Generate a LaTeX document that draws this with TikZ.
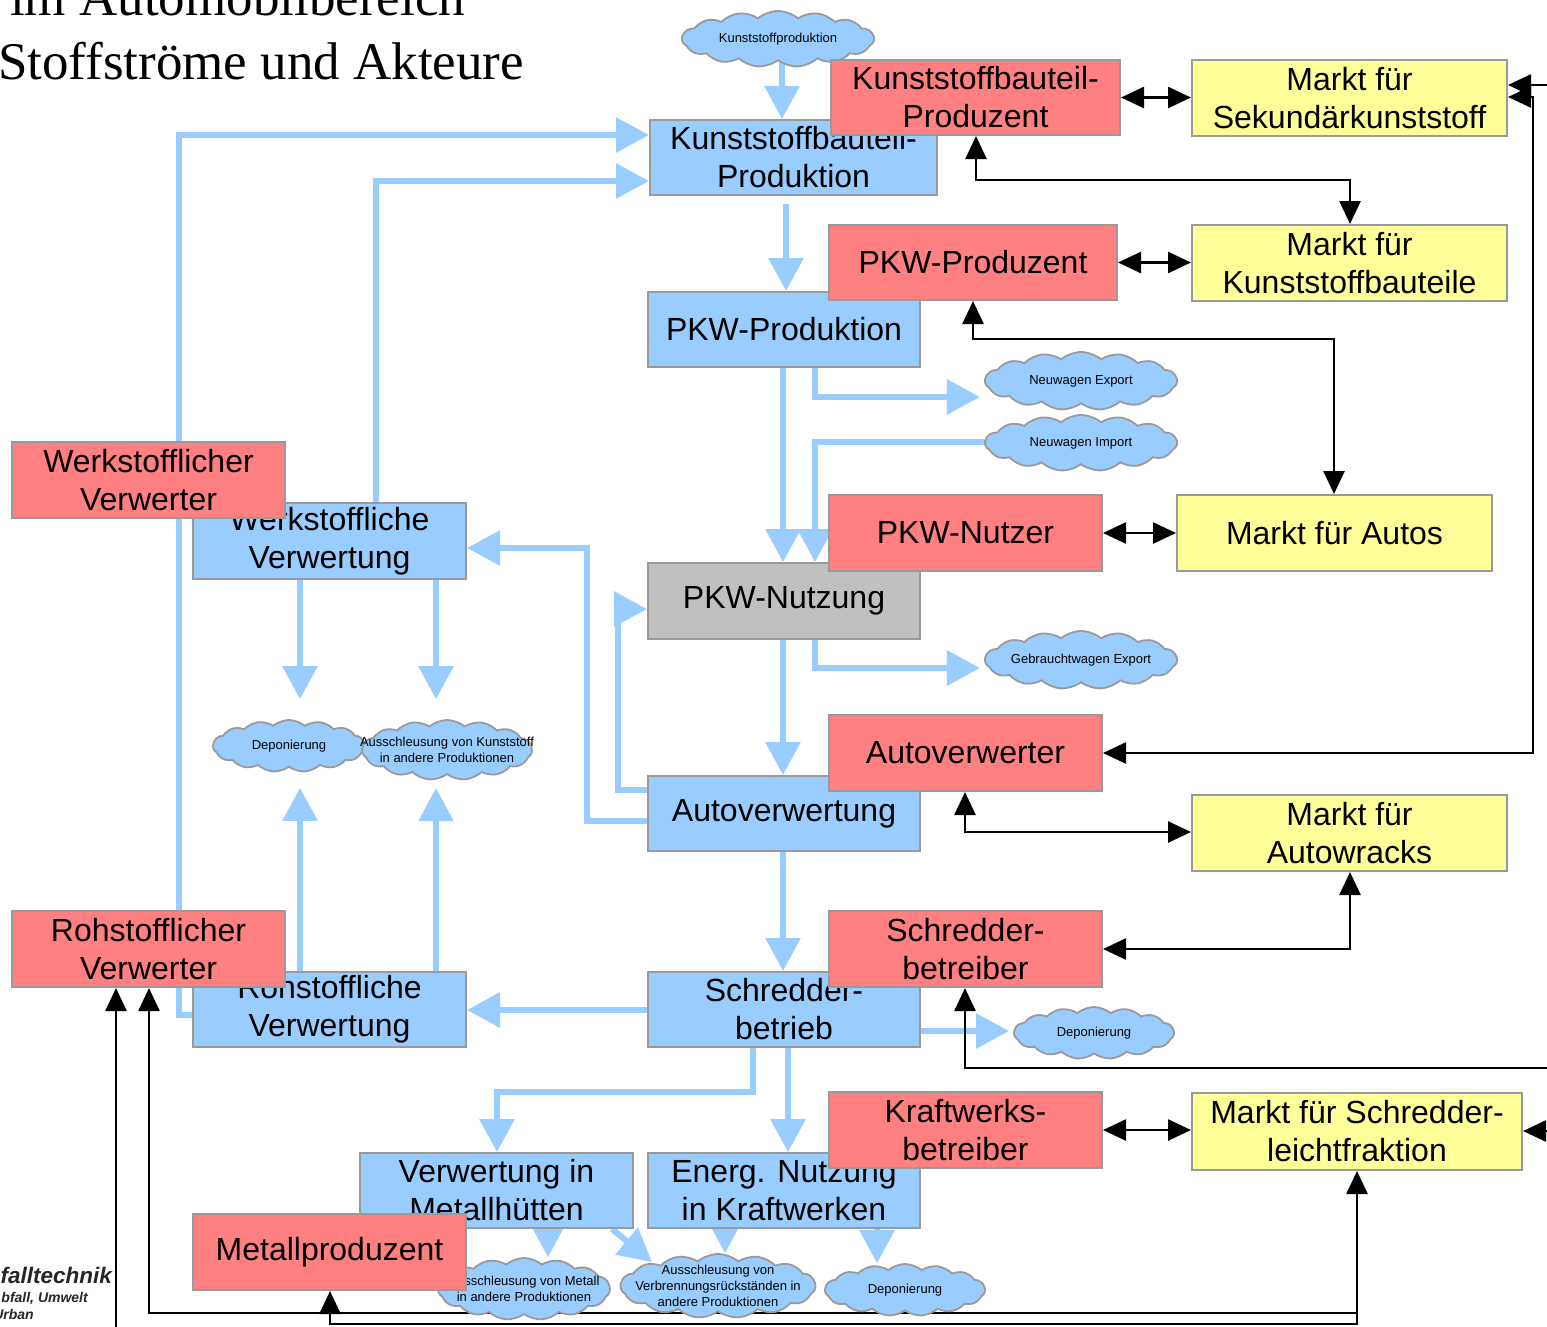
\documentclass[tikz,border=0pt]{standalone}
\usepackage{fontspec}
\setmainfont{Liberation Sans}
\newfontfamily\titlefont{Liberation Serif}
\usetikzlibrary{arrows.meta,shapes.symbols,calc}

\definecolor{flowblue}{HTML}{99CCFF}
\definecolor{actorred}{HTML}{FF8080}
\definecolor{marketyellow}{HTML}{FFFF99}
\definecolor{usegray}{HTML}{C0C0C0}
\definecolor{edgegray}{HTML}{9A9A9A}

\pgfdeclarelayer{paper}
\pgfdeclarelayer{bg}
\pgfsetlayers{paper,bg,main}

\tikzset{
  pbox/.style={draw=edgegray, line width=2pt, inner sep=0pt, align=center,
    font=\fontsize{32}{38}\selectfont},
  process/.style={pbox, fill=flowblue},
  actor/.style={pbox, fill=actorred},
  market/.style={pbox, fill=marketyellow},
  usage/.style={pbox, fill=usegray},
  sink/.style={cloud, cloud puffs=15, cloud puff arc=80, cloud ignores aspect,
    draw=edgegray, line width=1.8pt, fill=flowblue, inner sep=-40pt, align=center,
    font=\fontsize{13}{16}\selectfont},
  flow/.style={draw=flowblue, line width=6pt, -{Triangle[width=34pt,length=33pt]}},
  trade/.style={draw=black, line width=2.6pt, -{Triangle[width=21pt,length=23pt]}},
  tradeboth/.style={draw=black, line width=2.6pt,
    {Triangle[width=21pt,length=23pt]}-{Triangle[width=21pt,length=23pt]}},
  heading/.style={font=\titlefont\fontsize{53}{64}\selectfont, anchor=base west, inner sep=0pt},
  logo/.style={font=\bfseries\itshape\fontsize{14}{17}\selectfont, anchor=base east, inner sep=0pt, text=black!85},
}

\begin{document}
\begin{tikzpicture}[x=1pt, y=-1pt]
\useasboundingbox (0,0) rectangle (1547,1326);
\clip (0,0) rectangle (1547,1326);
\begin{pgfonlayer}{paper}
\fill[white] (0,0) rectangle (1547,1326);
\end{pgfonlayer}

% heading
\node[heading] (head1) at (10,15) {im Automobilbereich};
\node[heading] (head2) at (-2,79) {Stoffströme und Akteure};

% institute lettering, lower left
\node[logo, font=\bfseries\itshape\fontsize{22.5}{26}\selectfont] (logo1) at (112,1283) {falltechnik};
\node[logo] (logo2) at (88,1302) {bfall, Umwelt};
\node[logo] (logo3) at (34,1319) {Urban};

% processes (material flow)
\node[process, minimum width=287pt, minimum height=75pt] (kbprod) at (793.5,157.5) {Kunststoffbauteil-\\Produktion};
\node[process, minimum width=272pt, minimum height=75pt] (pkwprod) at (784,329.5) {PKW-Produktion};
\node[usage, minimum width=272pt, minimum height=76pt] (pkwnutz) at (784,601) {PKW-Nutzung};
\node[process, minimum width=272pt, minimum height=75pt] (autov) at (784,813.5) {Autoverwertung};
\node[process, minimum width=272pt, minimum height=75pt] (schred) at (784,1009.5) {Schredder-\\betrieb};
\node[process, minimum width=273pt, minimum height=76pt] (werkv) at (329.5,541) {Werkstoffliche\\Verwertung};
\node[process, minimum width=273pt, minimum height=75pt] (rohv) at (329.5,1009.5) {Rohstoffliche\\Verwertung};
\node[process, minimum width=273pt, minimum height=75pt] (metallh) at (496.5,1190.5) {Verwertung in\\Metallhütten};
\node[process, minimum width=272pt, minimum height=75pt] (energ) at (784,1190.5) {Energ. Nutzung\\in Kraftwerken};

% sources and sinks
\node[sink, minimum width=192pt, minimum height=56pt] (ckp) at (778,39) {Kunststoffproduktion};
\node[sink, minimum width=192pt, minimum height=58pt] (cne) at (1081,381) {Neuwagen Export};
\node[sink, minimum width=192pt, minimum height=56pt] (cni) at (1081,443) {Neuwagen Import};
\node[sink, minimum width=192pt, minimum height=58pt] (cge) at (1081,660) {Gebrauchtwagen Export};
\node[sink, minimum width=152pt, minimum height=52pt] (cdep1) at (289,746) {Deponierung};
\node[sink, minimum width=170pt, minimum height=60pt] (caks) at (447,750) {Ausschleusung von Kunststoff\\in andere Produktionen};
\node[sink, minimum width=160pt, minimum height=52pt] (cdep2) at (1094,1033) {Deponierung};
\node[sink, minimum width=172pt, minimum height=62pt] (cakm) at (524,1289) {Ausschleusung von Metall\\in andere Produktionen};
\node[sink, minimum width=195pt, minimum height=64pt] (cakv) at (718,1286) {Ausschleusung von\\Verbrennungsrückständen in\\andere Produktionen};
\node[sink, minimum width=160pt, minimum height=52pt] (cdep3) at (905,1290) {Deponierung};

% actors
\node[actor, minimum width=289pt, minimum height=75pt] (kbprodz) at (975.5,97.5) {Kunststoffbauteil-\\Produzent};
\node[actor, minimum width=288pt, minimum height=75pt] (pkwprodz) at (973,262.5) {PKW-Produzent};
\node[actor, minimum width=273pt, minimum height=76pt] (pkwnutzer) at (965.5,533) {PKW-Nutzer};
\node[actor, minimum width=273pt, minimum height=76pt] (autoverw) at (965.5,753) {Autoverwerter};
\node[actor, minimum width=273pt, minimum height=76pt] (schredb) at (965.5,949) {Schredder-\\betreiber};
\node[actor, minimum width=273pt, minimum height=76pt] (kraftb) at (965.5,1130) {Kraftwerks-\\betreiber};
\node[actor, minimum width=273pt, minimum height=76pt] (werkverw) at (148.5,480) {Werkstofflicher\\Verwerter};
\node[actor, minimum width=273pt, minimum height=76pt] (rohverw) at (148.5,949) {Rohstofflicher\\Verwerter};
\node[actor, minimum width=273pt, minimum height=76pt] (metallp) at (329.5,1252) {Metallproduzent};

% markets
\node[market, minimum width=315pt, minimum height=76pt] (msek) at (1349.5,98) {Markt für\\Sekundärkunststoff};
\node[market, minimum width=315pt, minimum height=76pt] (mkb) at (1349.5,263) {Markt für\\Kunststoffbauteile};
\node[market, minimum width=315pt, minimum height=76pt] (mautos) at (1334.5,533) {Markt für Autos};
\node[market, minimum width=315pt, minimum height=76pt] (mwracks) at (1349.5,833) {Markt für\\Autowracks};
\node[market, minimum width=330pt, minimum height=77pt] (mslf) at (1357,1131.5) {Markt für Schredder-\\leichtfraktion};

% loose ends leaving the drawing area
\coordinate (offsek) at (1570,85);
\coordinate (offschred) at (1570,1068);
\coordinate (offslf) at (1570,1131);
\coordinate (offroh) at (116,1345);
\coordinate (burntip) at (652,1262);

\begin{pgfonlayer}{bg}
% material flows
\draw[flow] (ckp.south -| 782,0) -- (kbprod.north -| 782,0);
\draw[flow] (rohv.west |- 0,1015) -- (179,1015) -- (179,135) -- (kbprod.west |- 0,135);
\draw[flow] (werkv.north -| 376,0) -- (376,181) -- (kbprod.west |- 0,181);
\draw[flow] ($(kbprod.south -| 786,0)+(0,8)$) -- (pkwprod.north -| 786,0);
\draw[flow] (pkwprod.south -| 783,0) -- (pkwnutz.north -| 783,0);
\draw[flow] (pkwprod.south -| 815,0) -- (815,397) -- ($(cne.west |- 0,397)+(-4,0)$);
\draw[flow] (cni.west |- 0,442) -- (815,442) -- (pkwnutz.north -| 815,0);
\draw[flow] (pkwnutz.south -| 783,0) -- (autov.north -| 783,0);
\draw[flow] (pkwnutz.south -| 815,0) -- (815,668) -- ($(cge.west |- 0,668)+(-4,0)$);
\draw[flow] (autov.west |- 0,790) -- (618,790) -- (618,609) -- (pkwnutz.west |- 0,609);
\draw[flow] (autov.west |- 0,821) -- (587,821) -- (587,548) -- (werkv.east |- 0,548);
\draw[flow] (autov.south -| 783,0) -- (schred.north -| 783,0);
\draw[flow] (schred.west |- 0,1010) -- (rohv.east |- 0,1010);
\draw[flow] (schred.east |- 0,1031) -- ($(cdep2.west |- 0,1031)+(-4,0)$);
\draw[flow] (schred.south -| 753,0) -- (753,1092) -- (497,1092) -- (metallh.north -| 497,0);
\draw[flow] (schred.south -| 788,0) -- (energ.north -| 788,0);
\draw[flow] (werkv.south -| 300,0) -- ($(cdep1.north -| 300,0)+(0,-20)$);
\draw[flow] (werkv.south -| 436,0) -- ($(caks.north -| 436,0)+(0,-20)$);
\draw[flow] (rohv.north -| 300,0) -- ($(cdep1.south -| 300,0)+(0,20)$);
\draw[flow] (rohv.north -| 436,0) -- ($(caks.south -| 436,0)+(0,13)$);
\draw[flow] (metallh.south -| 548,0) -- (cakm.north -| 548,0);
\draw[flow] (metallh.south -| 612,0) -- (burntip);
\draw[flow] (energ.south -| 725,0) -- (cakv.north -| 725,0);
\draw[flow] (energ.south -| 877,0) -- (cdep3.north -| 877,0);

% market relations
\draw[tradeboth] (kbprodz.east) -- (msek.west |- kbprodz.east);
\draw[tradeboth] (kbprodz.south -| 976,0) -- (976,180) -- (1350,180) -- (mkb.north -| 1350,0);
\draw[tradeboth] (pkwprodz.east) -- (mkb.west |- pkwprodz.east);
\draw[tradeboth] (pkwprodz.south -| 973,0) -- (973,339) -- (1334,339) -- (mautos.north -| 1334,0);
\draw[tradeboth] (pkwnutzer.east) -- (mautos.west);
\draw[tradeboth] (autoverw.east) -- (1533,753) -- (1533,97) -- (msek.east |- 0,97);
\draw[trade] (offsek) -- (msek.east |- offsek);
\draw[tradeboth] (autoverw.south -| 965,0) -- (965,832) -- (mwracks.west |- 0,832);
\draw[tradeboth] (schredb.east) -- (1350,949) -- (mwracks.south -| 1350,0);
\draw[trade] (offschred) -- (965,1068) -- (schredb.south -| 965,0);
\draw[tradeboth] (kraftb.east) -- (mslf.west |- kraftb.east);
\draw[trade] (offslf) -- (mslf.east |- offslf);
\draw[tradeboth] (mslf.south -| 1357,0) -- (1357,1313) -- (149,1313) -- (rohverw.south -| 149,0);
\draw[trade] (1357,1313) -- (1357,1324) -- (330,1324) -- (metallp.south -| 330,0);
\draw[trade] (offroh) -- (rohverw.south -| 116,0);
\end{pgfonlayer}
\end{tikzpicture}
\end{document}
